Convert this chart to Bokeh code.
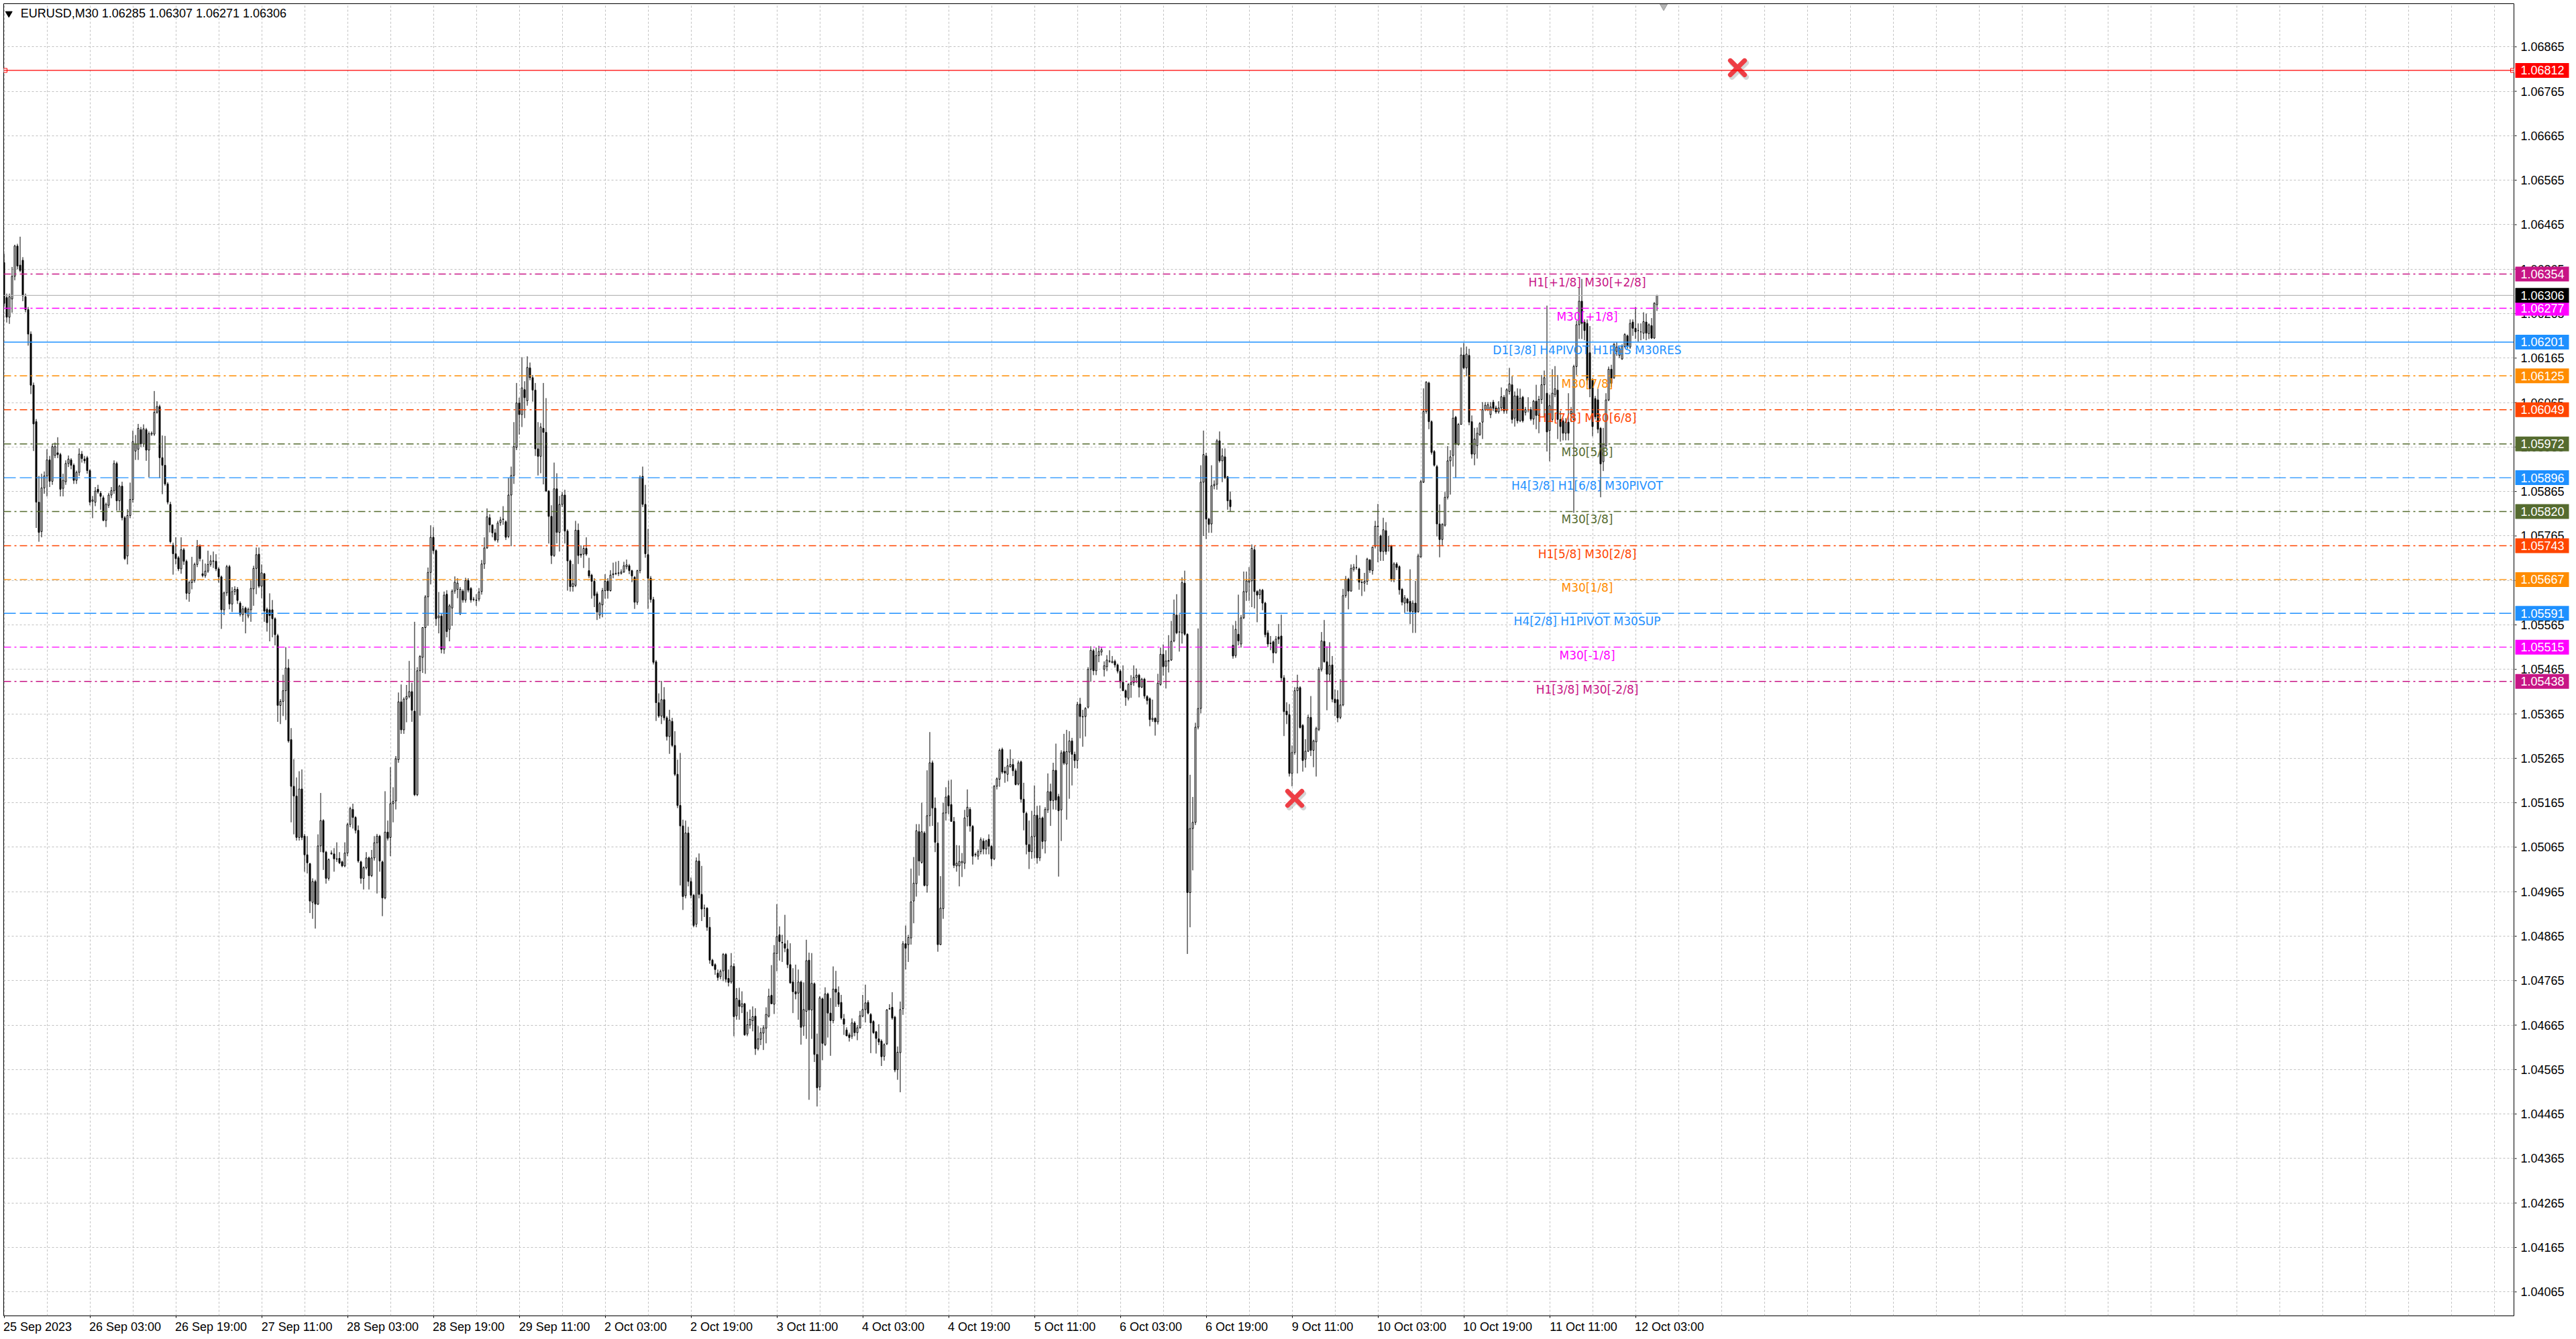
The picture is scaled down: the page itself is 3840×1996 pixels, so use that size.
import numpy as np
from bokeh.plotting import figure
from bokeh.layouts import row
from bokeh.models import (ColumnDataSource, FixedTicker, LinearAxis, Span, Range1d)
from bokeh.core.properties import value
from bokeh.embed import file_html
from bokeh.resources import INLINE

#################################
#   EURUSD M30 candles + levels  #
#################################

symbol = "EURUSD,M30"
header_ohlc = "1.06285 1.06307 1.06271 1.06306"

# prices in points: price = 1 + pts / 1e5   (one row = 10 bars)
opens_pts = [
    6380, 6301, 6257, 6298, 6349, 6417, 6374, 6385, 6303, 6274,
    6219, 6104, 6022, 5841, 5775, 5873, 5900, 5936, 5888, 5946,
    5952, 5948, 5872, 5887, 5928, 5936, 5924, 5890, 5908, 5949,
    5938, 5941, 5912, 5843, 5841, 5870, 5861, 5851, 5800, 5834,
    5857, 5867, 5928, 5844, 5877, 5806, 5720, 5811, 5847, 5956,
    5960, 6004, 5972, 6004, 5958, 5994, 5994, 6043, 6056, 5941,
    5924, 5882, 5836, 5744, 5725, 5716, 5691, 5734, 5708, 5636,
    5660, 5665, 5701, 5742, 5680, 5676, 5686, 5701, 5709, 5708,
    5691, 5673, 5599, 5637, 5696, 5612, 5640, 5645, 5614, 5588,
    5603, 5585, 5599, 5646, 5692, 5724, 5652, 5680, 5600, 5599,
    5599, 5579, 5541, 5384, 5393, 5417, 5468, 5307, 5202, 5180,
    5087, 5196, 5090, 5048, 5028, 4941, 4988, 4937, 5068, 5125,
    5054, 4995, 5050, 5050, 5039, 5040, 5032, 5023, 5052, 5116,
    5150, 5132, 5103, 5032, 4995, 5019, 5041, 5001, 5041, 5075,
    5090, 5032, 4951, 5099, 5087, 5163, 5169, 5262, 5392, 5329,
    5398, 5404, 5415, 5371, 5183, 5462, 5492, 5559, 5628, 5683,
    5762, 5732, 5581, 5585, 5510, 5634, 5555, 5603, 5641, 5645,
    5590, 5641, 5621, 5665, 5647, 5623, 5621, 5623, 5640, 5702,
    5738, 5806, 5790, 5772, 5756, 5795, 5802, 5797, 5764, 5857,
    5901, 5964, 6064, 6038, 6094, 6069, 6143, 6121, 6093, 5961,
    5944, 6007, 5998, 5866, 5809, 5721, 5871, 5773, 5836, 5857,
    5776, 5709, 5651, 5654, 5778, 5724, 5724, 5737, 5687, 5677,
    5663, 5635, 5587, 5610, 5642, 5663, 5642, 5678, 5680, 5681,
    5681, 5684, 5696, 5698, 5687, 5672, 5616, 5687, 5899, 5836,
    5723, 5670, 5622, 5482, 5390, 5360, 5397, 5356, 5314, 5348,
    5294, 5229, 5159, 5113, 4956, 5097, 4988, 4957, 4892, 5034,
    4959, 4928, 4928, 4885, 4811, 4801, 4782, 4774, 4787, 4824,
    4770, 4762, 4797, 4686, 4721, 4706, 4713, 4645, 4665, 4675,
    4685, 4612, 4633, 4647, 4658, 4685, 4732, 4712, 4826, 4868,
    4851, 4848, 4836, 4801, 4762, 4740, 4737, 4762, 4663, 4696,
    4811, 4699, 4758, 4599, 4526, 4724, 4621, 4735, 4692, 4675,
    4746, 4738, 4716, 4679, 4654, 4643, 4640, 4670, 4648, 4659,
    4685, 4700, 4716, 4689, 4673, 4650, 4634, 4629, 4595, 4623,
    4701, 4705, 4683, 4565, 4603, 4702, 4848, 4846, 4861, 4944,
    4983, 5100, 5031, 5097, 4979, 5136, 5255, 5153, 5074, 4846,
    4927, 5142, 5181, 5161, 5123, 5023, 5023, 5030, 5029, 5134,
    5150, 5112, 5048, 5045, 5055, 5079, 5061, 5083, 5067, 5039,
    5202, 5218, 5285, 5236, 5229, 5246, 5251, 5237, 5207, 5257,
    5173, 5141, 5071, 5055, 5089, 5137, 5041, 5131, 5079, 5149,
    5190, 5170, 5238, 5179, 5149, 5280, 5252, 5279, 5304, 5274,
    5260, 5387, 5358, 5359, 5380, 5465, 5507, 5462, 5496, 5504,
    5465, 5471, 5484, 5480, 5483, 5475, 5461, 5436, 5417, 5400,
    5431, 5435, 5447, 5452, 5425, 5443, 5404, 5399, 5352, 5355,
    5347, 5431, 5499, 5472, 5483, 5486, 5529, 5587, 5549, 5547,
    5659, 5544, 4963, 5107, 5121, 5335, 5377, 5886, 5945, 5803,
    5792, 5878, 5881, 5979, 5934, 5943, 5898, 5846, 5519, 5496,
    5544, 5522, 5581, 5639, 5661, 5664, 5734, 5640, 5633, 5643,
    5614, 5547, 5524, 5527, 5503, 5538, 5540, 5446, 5371, 5363,
    5231, 5278, 5417, 5424, 5339, 5263, 5281, 5357, 5283, 5302,
    5330, 5465, 5528, 5482, 5454, 5475, 5398, 5397, 5357, 5385,
    5631, 5668, 5641, 5690, 5694, 5691, 5661, 5659, 5663, 5711,
    5687, 5742, 5787, 5765, 5730, 5777, 5742, 5743, 5668, 5702,
    5696, 5645, 5614, 5623, 5618, 5595, 5614, 5595, 5718, 5886,
    6045, 6109, 6022, 5955, 5921, 5792, 5757, 5789, 5852, 5934,
    5946, 6032, 5971, 6016, 6172, 6143, 6171, 6022, 5949, 5968,
    5993, 6021, 6049, 6049, 6038, 6066, 6053, 6044, 6053, 6077,
    6047, 6090, 6105, 6030, 6080, 6024, 6077, 6043, 6049, 6049,
    6028, 6068, 6036, 6072, 6105, 6086, 6002, 6027, 6083, 6093,
    6027, 6024, 5996, 6021, 6040, 6027, 6146, 6240, 6293, 6246,
    6243, 6177, 6115, 6074, 6071, 6007, 5932, 5968, 6071, 6140,
    6121, 6180, 6171, 6163, 6191, 6215, 6190, 6246, 6232, 6227,
    6224, 6221, 6246, 6220, 6238, 6210, 6285,
]

highs_pts = [
    6400, 6310, 6310, 6370, 6420, 6422, 6438, 6392, 6310, 6280,
    6225, 6110, 6028, 5900, 5905, 5910, 5960, 5945, 5972, 5975,
    5987, 5952, 5905, 5935, 5946, 5940, 5928, 5912, 5962, 5956,
    5945, 5945, 5915, 5855, 5875, 5880, 5866, 5856, 5840, 5862,
    5875, 5935, 5932, 5880, 5887, 5810, 5825, 5885, 6002, 5992,
    6017, 6010, 6016, 6008, 6000, 6000, 6091, 6068, 6060, 5991,
    5990, 5886, 5842, 5750, 5762, 5720, 5762, 5738, 5712, 5664,
    5718, 5705, 5756, 5746, 5712, 5703, 5732, 5722, 5730, 5724,
    5695, 5676, 5640, 5700, 5700, 5650, 5652, 5650, 5618, 5608,
    5606, 5604, 5665, 5698, 5739, 5739, 5701, 5682, 5604, 5636,
    5621, 5582, 5545, 5398, 5453, 5515, 5488, 5333, 5263, 5222,
    5236, 5240, 5095, 5090, 5030, 4995, 4992, 5094, 5187, 5128,
    5057, 5040, 5058, 5063, 5076, 5054, 5035, 5076, 5120, 5156,
    5163, 5135, 5114, 5035, 5022, 5054, 5044, 5059, 5090, 5095,
    5093, 5035, 5191, 5125, 5245, 5200, 5270, 5413, 5431, 5402,
    5430, 5484, 5435, 5572, 5470, 5497, 5560, 5632, 5694, 5789,
    5785, 5735, 5639, 5590, 5640, 5643, 5612, 5645, 5674, 5670,
    5650, 5645, 5671, 5670, 5650, 5628, 5634, 5648, 5711, 5762,
    5827, 5814, 5790, 5781, 5799, 5808, 5832, 5800, 5896, 5921,
    6021, 6109, 6076, 6167, 6113, 6169, 6155, 6127, 6109, 6021,
    6019, 6109, 6075, 5868, 5834, 5930, 5906, 5855, 5864, 5869,
    5780, 5712, 5702, 5799, 5793, 5744, 5744, 5762, 5716, 5680,
    5670, 5640, 5617, 5648, 5679, 5670, 5688, 5705, 5707, 5709,
    5690, 5707, 5712, 5702, 5689, 5675, 5689, 5901, 5921, 5880,
    5781, 5675, 5628, 5486, 5411, 5439, 5425, 5360, 5374, 5356,
    5326, 5262, 5277, 5127, 5125, 5111, 4997, 4960, 5042, 5051,
    5023, 4936, 4930, 4908, 4814, 4804, 4790, 4790, 4827, 4827,
    4790, 4827, 4804, 4748, 4749, 4741, 4715, 4695, 4700, 4707,
    4703, 4663, 4659, 4665, 4705, 4747, 4800, 4845, 4937, 4887,
    4868, 4913, 4856, 4849, 4793, 4801, 4790, 4765, 4761, 4857,
    4828, 4827, 4761, 4646, 4730, 4727, 4750, 4738, 4726, 4797,
    4787, 4752, 4733, 4690, 4660, 4648, 4680, 4674, 4665, 4697,
    4733, 4756, 4721, 4692, 4676, 4652, 4667, 4633, 4624, 4701,
    4712, 4739, 4686, 4617, 4718, 4854, 4889, 4868, 5017, 5043,
    5117, 5117, 5165, 5101, 5238, 5324, 5260, 5177, 5121, 5000,
    5165, 5200, 5215, 5217, 5133, 5070, 5069, 5052, 5149, 5195,
    5155, 5115, 5053, 5060, 5087, 5085, 5082, 5094, 5070, 5205,
    5222, 5287, 5289, 5246, 5264, 5285, 5264, 5242, 5260, 5260,
    5210, 5145, 5125, 5147, 5204, 5158, 5159, 5134, 5155, 5231,
    5208, 5255, 5298, 5185, 5283, 5320, 5329, 5326, 5311, 5280,
    5392, 5401, 5374, 5380, 5470, 5517, 5511, 5514, 5518, 5514,
    5483, 5497, 5508, 5495, 5487, 5478, 5465, 5474, 5420, 5434,
    5452, 5474, 5467, 5455, 5446, 5446, 5407, 5402, 5397, 5357,
    5455, 5514, 5521, 5508, 5542, 5574, 5622, 5634, 5589, 5672,
    5687, 5546, 5228, 5178, 5345, 5557, 5924, 6002, 5952, 5806,
    5924, 5890, 5983, 6000, 5962, 5962, 5900, 5865, 5564, 5574,
    5633, 5587, 5685, 5685, 5695, 5746, 5742, 5643, 5646, 5646,
    5617, 5553, 5540, 5530, 5540, 5567, 5588, 5452, 5391, 5387,
    5294, 5425, 5453, 5427, 5342, 5308, 5363, 5405, 5307, 5336,
    5470, 5549, 5576, 5517, 5526, 5495, 5420, 5418, 5443, 5646,
    5675, 5671, 5701, 5702, 5722, 5694, 5668, 5682, 5716, 5713,
    5740, 5799, 5837, 5768, 5806, 5796, 5765, 5745, 5706, 5706,
    5699, 5648, 5632, 5626, 5690, 5620, 5664, 5725, 5891, 6097,
    6113, 6112, 6025, 5958, 5925, 5836, 5794, 5864, 5967, 5958,
    6049, 6035, 6019, 6189, 6199, 6191, 6186, 6036, 6008, 6009,
    6021, 6066, 6066, 6066, 6066, 6071, 6058, 6068, 6099, 6082,
    6097, 6143, 6124, 6090, 6097, 6096, 6080, 6055, 6077, 6055,
    6071, 6105, 6080, 6127, 6137, 6283, 6083, 6140, 6147, 6127,
    6046, 6030, 6030, 6086, 6055, 6150, 6249, 6324, 6343, 6252,
    6252, 6237, 6120, 6080, 6096, 6010, 6008, 6086, 6146, 6150,
    6199, 6201, 6190, 6196, 6221, 6218, 6252, 6252, 6280, 6243,
    6243, 6268, 6265, 6243, 6255, 6291, 6307,
]

lows_pts = [
    6280, 6245, 6242, 6267, 6340, 6365, 6358, 6293, 6268, 6193,
    6084, 5956, 5783, 5752, 5762, 5860, 5854, 5875, 5880, 5940,
    5940, 5854, 5854, 5880, 5920, 5915, 5882, 5882, 5900, 5930,
    5928, 5905, 5834, 5805, 5832, 5860, 5824, 5798, 5785, 5828,
    5850, 5860, 5822, 5822, 5800, 5711, 5701, 5805, 5840, 5936,
    5936, 5965, 5965, 5934, 5897, 5990, 5990, 6040, 5895, 5859,
    5878, 5836, 5748, 5678, 5701, 5686, 5680, 5700, 5622, 5617,
    5645, 5660, 5695, 5708, 5672, 5671, 5682, 5696, 5693, 5686,
    5660, 5556, 5587, 5630, 5600, 5594, 5632, 5612, 5584, 5572,
    5546, 5580, 5572, 5608, 5634, 5648, 5625, 5572, 5550, 5528,
    5537, 5519, 5347, 5342, 5360, 5351, 5300, 5121, 5094, 5080,
    5080, 5081, 5010, 5006, 4917, 4904, 4882, 4935, 5054, 5014,
    4983, 4990, 5048, 5010, 5032, 5027, 5020, 5020, 5045, 5110,
    5107, 5096, 5030, 4983, 4970, 5015, 4970, 4998, 5035, 4961,
    5010, 4910, 4948, 5080, 5045, 5121, 5150, 5255, 5320, 5320,
    5346, 5400, 5347, 5180, 5180, 5361, 5457, 5455, 5563, 5656,
    5725, 5563, 5546, 5501, 5500, 5537, 5528, 5563, 5635, 5625,
    5587, 5615, 5615, 5638, 5615, 5618, 5608, 5618, 5633, 5691,
    5736, 5773, 5762, 5753, 5750, 5788, 5790, 5756, 5760, 5742,
    5882, 5958, 5993, 6010, 6030, 6058, 6115, 6067, 5945, 5901,
    5906, 5881, 5864, 5748, 5702, 5718, 5748, 5730, 5830, 5748,
    5642, 5640, 5640, 5650, 5702, 5716, 5693, 5720, 5670, 5624,
    5605, 5576, 5579, 5582, 5624, 5624, 5640, 5670, 5677, 5675,
    5678, 5682, 5690, 5679, 5661, 5601, 5610, 5681, 5830, 5716,
    5601, 5615, 5476, 5349, 5356, 5342, 5350, 5305, 5275, 5290,
    5225, 5153, 4979, 4924, 4950, 4977, 4950, 4885, 4885, 4950,
    4899, 4908, 4877, 4803, 4797, 4778, 4765, 4768, 4764, 4761,
    4752, 4758, 4640, 4677, 4677, 4692, 4641, 4640, 4657, 4651,
    4598, 4608, 4620, 4609, 4624, 4682, 4712, 4690, 4786, 4810,
    4807, 4829, 4793, 4758, 4692, 4723, 4677, 4621, 4641, 4634,
    4497, 4634, 4582, 4482, 4518, 4586, 4618, 4637, 4596, 4669,
    4706, 4706, 4677, 4643, 4640, 4628, 4634, 4640, 4631, 4657,
    4683, 4671, 4689, 4602, 4645, 4601, 4620, 4573, 4585, 4620,
    4700, 4677, 4559, 4542, 4514, 4688, 4790, 4807, 4846, 4894,
    4954, 5001, 5028, 4977, 4963, 5112, 5113, 5054, 4830, 4845,
    4904, 5125, 5139, 5122, 5018, 5010, 4977, 4998, 5016, 5112,
    5100, 5026, 5043, 5037, 5049, 5049, 5049, 5049, 5022, 5036,
    5195, 5201, 5230, 5210, 5213, 5244, 5225, 5204, 5204, 5165,
    5103, 5049, 5016, 5039, 5040, 5028, 5034, 5061, 5051, 5142,
    5113, 5150, 5149, 4999, 5079, 5250, 5127, 5174, 5204, 5243,
    5242, 5310, 5291, 5314, 5377, 5437, 5452, 5452, 5481, 5496,
    5449, 5461, 5480, 5479, 5469, 5456, 5422, 5416, 5383, 5395,
    5401, 5428, 5434, 5402, 5423, 5399, 5386, 5337, 5347, 5316,
    5341, 5428, 5451, 5422, 5458, 5484, 5526, 5544, 5505, 5523,
    5541, 4825, 4885, 5013, 5115, 5330, 5366, 5765, 5758, 5772,
    5772, 5870, 5869, 5930, 5886, 5893, 5824, 5820, 5489, 5491,
    5519, 5514, 5578, 5619, 5619, 5605, 5602, 5571, 5623, 5598,
    5537, 5515, 5508, 5479, 5500, 5522, 5439, 5315, 5342, 5224,
    5202, 5273, 5231, 5332, 5235, 5244, 5279, 5270, 5245, 5224,
    5326, 5460, 5480, 5373, 5439, 5391, 5360, 5346, 5353, 5382,
    5626, 5600, 5640, 5685, 5689, 5644, 5630, 5640, 5655, 5682,
    5678, 5737, 5706, 5709, 5709, 5723, 5730, 5662, 5661, 5688,
    5633, 5609, 5592, 5595, 5567, 5547, 5547, 5592, 5716, 5884,
    6040, 6005, 5948, 5921, 5764, 5717, 5742, 5786, 5847, 5858,
    5921, 5896, 5968, 6015, 6140, 6124, 6014, 5939, 5924, 5939,
    5990, 5983, 6046, 6046, 6030, 6046, 6040, 6040, 6046, 6040,
    6040, 6083, 6018, 6011, 6018, 6021, 6020, 6036, 6043, 6024,
    6015, 6005, 5996, 6062, 6033, 5955, 5933, 6021, 6077, 5983,
    5977, 5980, 5980, 5980, 6021, 5817, 6127, 6208, 6208, 6205,
    6105, 6077, 5989, 6027, 5996, 5852, 5911, 5964, 6068, 6100,
    6118, 6170, 6165, 6161, 6188, 6186, 6186, 6215, 6208, 6202,
    6205, 6208, 6205, 6208, 6208, 6208, 6271,
]

closes_pts = [
    6288, 6257, 6303, 6349, 6417, 6372, 6362, 6305, 6274, 6219,
    6104, 6017, 5841, 5773, 5873, 5900, 5936, 5888, 5966, 5966,
    5948, 5870, 5890, 5928, 5938, 5924, 5890, 5908, 5949, 5939,
    5934, 5912, 5841, 5846, 5866, 5864, 5854, 5800, 5836, 5857,
    5867, 5928, 5844, 5877, 5806, 5714, 5811, 5847, 5977, 5972,
    6007, 5972, 6006, 5958, 5995, 5996, 6043, 6056, 5941, 5924,
    5882, 5841, 5752, 5725, 5714, 5691, 5734, 5708, 5636, 5660,
    5667, 5701, 5742, 5714, 5676, 5686, 5701, 5709, 5708, 5691,
    5673, 5599, 5637, 5696, 5612, 5640, 5645, 5620, 5589, 5601,
    5592, 5600, 5647, 5692, 5723, 5652, 5682, 5596, 5570, 5586,
    5579, 5543, 5384, 5393, 5417, 5468, 5304, 5202, 5180, 5087,
    5196, 5087, 5048, 5030, 4944, 4988, 4937, 5068, 5125, 5054,
    4995, 5037, 5052, 5039, 5038, 5030, 5023, 5052, 5116, 5152,
    5132, 5103, 5034, 4995, 5019, 5041, 5001, 5041, 5075, 5090,
    5034, 4951, 5099, 5085, 5163, 5168, 5264, 5392, 5329, 5398,
    5404, 5415, 5373, 5183, 5462, 5494, 5559, 5628, 5683, 5762,
    5732, 5579, 5585, 5510, 5632, 5550, 5608, 5641, 5661, 5659,
    5645, 5621, 5665, 5643, 5621, 5622, 5620, 5639, 5702, 5738,
    5808, 5790, 5772, 5756, 5794, 5801, 5803, 5762, 5857, 5901,
    5966, 6064, 6038, 6098, 6076, 6144, 6121, 6093, 5961, 5944,
    6010, 5998, 5866, 5809, 5721, 5871, 5773, 5836, 5857, 5776,
    5709, 5651, 5658, 5778, 5721, 5722, 5737, 5724, 5675, 5663,
    5631, 5594, 5613, 5642, 5663, 5642, 5677, 5680, 5681, 5682,
    5684, 5698, 5700, 5687, 5675, 5616, 5687, 5896, 5836, 5725,
    5670, 5622, 5481, 5390, 5360, 5397, 5356, 5314, 5351, 5294,
    5229, 5159, 5113, 4954, 5097, 4988, 4957, 4889, 5034, 4959,
    4926, 4928, 4885, 4811, 4799, 4790, 4772, 4786, 4824, 4768,
    4761, 4798, 4684, 4725, 4707, 4713, 4643, 4666, 4678, 4684,
    4612, 4634, 4648, 4659, 4689, 4730, 4713, 4827, 4864, 4853,
    4850, 4838, 4801, 4760, 4740, 4735, 4762, 4660, 4700, 4810,
    4699, 4759, 4599, 4524, 4726, 4624, 4735, 4692, 4675, 4746,
    4739, 4712, 4681, 4667, 4641, 4637, 4670, 4648, 4659, 4686,
    4700, 4715, 4692, 4670, 4648, 4635, 4627, 4594, 4621, 4699,
    4702, 4681, 4564, 4604, 4700, 4848, 4838, 4862, 4942, 4984,
    5102, 5034, 5100, 4979, 5136, 5255, 5153, 5076, 4846, 4928,
    5142, 5178, 5158, 5123, 5024, 5029, 5033, 5033, 5131, 5155,
    5113, 5045, 5049, 5055, 5082, 5061, 5079, 5067, 5039, 5202,
    5219, 5283, 5234, 5232, 5248, 5251, 5237, 5206, 5255, 5173,
    5143, 5071, 5055, 5089, 5137, 5041, 5130, 5078, 5150, 5190,
    5170, 5238, 5171, 5147, 5277, 5254, 5280, 5304, 5274, 5260,
    5386, 5359, 5359, 5377, 5465, 5508, 5462, 5496, 5505, 5509,
    5473, 5486, 5483, 5483, 5475, 5461, 5437, 5417, 5402, 5431,
    5435, 5447, 5452, 5425, 5443, 5405, 5395, 5352, 5355, 5347,
    5434, 5499, 5471, 5484, 5485, 5528, 5589, 5547, 5549, 5660,
    5544, 4963, 5107, 5121, 5335, 5377, 5886, 5948, 5803, 5791,
    5878, 5881, 5979, 5934, 5945, 5896, 5844, 5831, 5495, 5555,
    5529, 5581, 5640, 5664, 5664, 5737, 5640, 5632, 5643, 5614,
    5543, 5522, 5523, 5502, 5533, 5533, 5446, 5370, 5363, 5231,
    5278, 5417, 5424, 5334, 5260, 5281, 5357, 5283, 5304, 5332,
    5465, 5529, 5482, 5454, 5474, 5398, 5390, 5356, 5385, 5631,
    5668, 5641, 5692, 5695, 5694, 5661, 5660, 5663, 5713, 5688,
    5740, 5787, 5786, 5730, 5779, 5730, 5743, 5668, 5702, 5694,
    5644, 5616, 5626, 5614, 5595, 5614, 5593, 5720, 5887, 6045,
    6111, 6022, 5953, 5924, 5792, 5757, 5791, 5852, 5934, 5943,
    6030, 5971, 6016, 6172, 6143, 6174, 6021, 5949, 5983, 5996,
    6018, 6049, 6059, 6060, 6055, 6052, 6044, 6053, 6078, 6046,
    6094, 6107, 6027, 6080, 6024, 6075, 6024, 6049, 6049, 6028,
    6068, 6036, 6072, 6105, 6121, 5999, 6058, 6086, 6096, 6027,
    6011, 5996, 6021, 5996, 6045, 6146, 6240, 6293, 6243, 6227,
    6115, 6096, 6011, 6033, 6005, 5927, 5971, 6071, 6140, 6108,
    6196, 6190, 6186, 6191, 6218, 6193, 6243, 6232, 6224, 6227,
    6224, 6247, 6221, 6240, 6210, 6288, 6306,
]

# time axis: bar index of each date label
time_label_bars = [0, 32, 64, 96, 128, 160, 192, 224, 256, 288,
                   320, 352, 384, 416, 448, 480, 512, 544, 576, 608]
time_labels = ["25 Sep 2023", "26 Sep 03:00", "26 Sep 19:00", "27 Sep 11:00",
               "28 Sep 03:00", "28 Sep 19:00", "29 Sep 11:00", "2 Oct 03:00",
               "2 Oct 19:00", "3 Oct 11:00", "4 Oct 03:00", "4 Oct 19:00",
               "5 Oct 11:00", "6 Oct 03:00", "6 Oct 19:00", "9 Oct 11:00",
               "10 Oct 03:00", "10 Oct 19:00", "11 Oct 11:00", "12 Oct 03:00"]

price_ticks = [round(1.04065 + 0.001 * k, 5) for k in range(29)]

# Murrey math levels drawn by the indicator
level_prices = [1.06354, 1.06277, 1.06201, 1.06125, 1.06049, 1.05972, 1.05896,
                1.05820, 1.05743, 1.05667, 1.05591, 1.05515, 1.05438]
level_names = ["H1[+1/8] M30[+2/8]", "M30[+1/8]", "D1[3/8] H4PIVOT H1RES M30RES",
               "M30[7/8]", "H1[7/8] M30[6/8]", "M30[5/8]", "H4[3/8] H1[6/8] M30PIVOT",
               "M30[3/8]", "H1[5/8] M30[2/8]", "M30[1/8]", "H4[2/8] H1PIVOT M30SUP",
               "M30[-1/8]", "H1[3/8] M30[-2/8]"]
level_colors = ["#C71585", "#FF00FF", "#1E90FF", "#FF8C00", "#FF4500", "#556B2F",
                "#1E90FF", "#556B2F", "#FF4500", "#FF8C00", "#1E90FF", "#FF00FF",
                "#C71585"]
level_styles = ["dashdot", "dashdot", "solid", "dashdot", "dashdot", "dashdot", "dash",
                "dashdot", "dashdot", "dashdot", "dash", "dashdot", "dashdot"]

alert_price = 1.06812
bid_price = 1.06306

# red cross marks (bar, price)
mark_bars = [481, 646]
mark_prices = [1.05175, 1.06818]

dash_of = {"solid": "solid", "dash": "18 6", "dashdot": "11 5 3 5"}
AXIS_FONT = "Liberation Sans"
AXIS_SIZE = 18

#################################

n = len(closes_pts)
bars = np.arange(n)
o = 1 + np.array(opens_pts[:n]) / 1e5
h = 1 + np.array(highs_pts[:n]) / 1e5
l = 1 + np.array(lows_pts[:n]) / 1e5
c = 1 + np.array(closes_pts[:n]) / 1e5

# frame 3742 x 1956 px, 4 px per bar (centres on half pixels), 66286 px per unit of price
FRAME_W, FRAME_H = 3742, 1956
x_start = -0.125
x_end = x_start + FRAME_W / 4
y_end = 1.06962
y_start = y_end - FRAME_H / 66286
yr = Range1d(y_start, y_end)

main = figure(width=FRAME_W + 6, height=FRAME_H + 37,
              x_range=Range1d(x_start, x_end), y_range=yr,
              x_axis_location="below", y_axis_location=None,
              toolbar_location=None, output_backend="svg",
              min_border_left=5, min_border_right=1, min_border_top=5,
              min_border_bottom=32)
main.background_fill_color = "white"
main.border_fill_color = "white"
main.outline_line_color = "black"
main.outline_line_width = 1

# tick marks of the time scale
xa = main.xaxis[0]
xa.ticker = FixedTicker(ticks=time_label_bars)
xa.major_tick_in = 0
xa.major_tick_out = 3
xa.major_tick_line_color = "black"
xa.minor_tick_in = 0
xa.minor_tick_out = 0
xa.axis_line_color = None
xa.major_label_text_font_size = "1px"
xa.major_label_text_alpha = 0
xa.major_label_standoff = 0

# time labels start at their tick (mt4 style), so centre them half a label to the right
arial_em = {" ": 0.278, ":": 0.278, "S": 0.667, "e": 0.556, "p": 0.556,
            "O": 0.778, "c": 0.5, "t": 0.278}


def text_px(s, size):
    return size * sum(arial_em.get(ch, 0.556) for ch in s)


label_pos = [round(b + (text_px(t, AXIS_SIZE) / 2 - 1) / 4, 3)
             for b, t in zip(time_label_bars, time_labels)]
xl = LinearAxis(ticker=FixedTicker(ticks=label_pos),
                major_label_overrides=dict(zip(label_pos, time_labels)),
                major_tick_in=0, major_tick_out=0, minor_tick_in=0, minor_tick_out=0,
                axis_line_color=None, major_label_standoff=3,
                major_label_text_font=AXIS_FONT,
                major_label_text_font_size=f"{AXIS_SIZE}px",
                major_label_text_color="black")
main.add_layout(xl, "below")

main.xgrid.ticker = FixedTicker(ticks=list(range(0, 929, 16)))
main.ygrid.ticker = FixedTicker(ticks=price_ticks)
for g in (main.xgrid[0], main.ygrid[0]):
    g.grid_line_color = "#C0C0C0"
    g.grid_line_dash = "3 3"
    g.grid_line_width = 1

# candles
main.segment(x0=bars, y0=l, x1=bars, y1=h, line_color="black", line_width=1)
up = c >= o
main.vbar(x=bars[up], top=c[up], bottom=o[up], width=0.5,
          fill_color="white", line_color="black", line_width=1)
main.vbar(x=bars[~up], top=o[~up], bottom=c[~up], width=0.5,
          fill_color="black", line_color="black", line_width=1)

# horizontal lines
main.add_layout(Span(location=bid_price, dimension="width", line_color="#B8B8B8", line_width=1.2))
main.add_layout(Span(location=alert_price, dimension="width", line_color="#FF0000", line_width=1.2))
for price, col, sty in zip(level_prices, level_colors, level_styles):
    main.add_layout(Span(location=price, dimension="width", line_color=col,
                         line_dash=dash_of[sty], line_width=1.4))

# level captions
lvl = ColumnDataSource(dict(x=[590] * len(level_prices), y=level_prices,
                            text=level_names, color=level_colors))
main.text(x="x", y="y", text="text", text_color="color", source=lvl,
          text_font=value("DejaVu Sans"), text_font_size="17px",
          text_align="center", text_baseline="top", y_offset=2)

# anchors of the alert line and the chart-shift marker
main.scatter(x=[x_start + 0.5, x_end - 0.5], y=[alert_price, alert_price], marker="square",
             size=6, line_color="#FF0000", fill_color="white", line_width=1)
main.scatter(x=[618.5], y=[y_end - 0.00006], marker="inverted_triangle", size=11,
             fill_color="#B4B4B4", line_color="#9A9A9A")

# red crosses
mb = np.array(mark_bars, dtype=float)
mp = np.array(mark_prices)
main.scatter(x=mb + 0.6, y=mp - 0.00005, marker="x", size=30, line_width=8,
             line_color="#777777", line_alpha=0.3, line_cap="round")
main.scatter(x=mb, y=mp, marker="x", size=30, line_width=7,
             line_color="#EE3E45", line_cap="round")

# header
main.text(x=[6.2], y=[1.06940], text=[f"{symbol}  {header_ohlc}"],
          text_font=value("Liberation Sans"), text_font_size="18px",
          text_color="black", text_baseline="middle", text_align="left")
main.scatter(x=[1.8], y=[1.06940], marker="inverted_triangle", size=10,
             fill_color="black", line_color="black")

# price scale on the right, shares the price range
scale = figure(width=84, height=FRAME_H + 37, x_range=Range1d(0, 84), y_range=yr,
               x_axis_location=None, y_axis_location=None,
               toolbar_location=None, output_backend="svg",
               min_border_left=0, min_border_right=0, min_border_top=5,
               min_border_bottom=32)
scale.outline_line_color = None
scale.background_fill_color = "white"
scale.border_fill_color = "white"
scale.xgrid.visible = False
scale.ygrid.visible = False

scale.segment(x0=[0] * len(price_ticks), y0=price_ticks, x1=[3] * len(price_ticks),
              y1=price_ticks, line_color="black", line_width=1)
scale.text(x=[9] * len(price_ticks), y=price_ticks,
           text=[f"{t:.5f}" for t in price_ticks], text_color="black",
           text_font=value(AXIS_FONT), text_font_size=f"{AXIS_SIZE}px",
           text_baseline="middle", text_align="left")

box_prices = [alert_price] + level_prices + [bid_price]
box_colors = ["#FF0000"] + level_colors + ["#000000"]
scale.rect(x=[41] * len(box_prices), y=box_prices, width=80, height=22,
           height_units="screen", fill_color=box_colors, line_color=None)
scale.text(x=[9] * len(box_prices), y=box_prices,
           text=[f"{p:.5f}" for p in box_prices], text_color="white",
           text_font=value(AXIS_FONT), text_font_size=f"{AXIS_SIZE}px",
           text_baseline="middle", text_align="left")

layout = row(main, scale, spacing=0)
open("out.html", "w").write(file_html(layout, INLINE))
